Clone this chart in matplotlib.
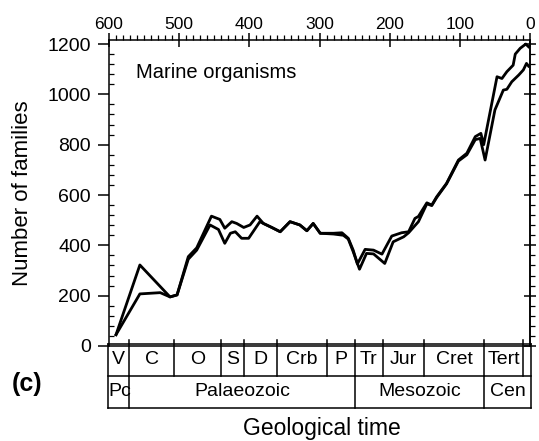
import matplotlib
matplotlib.use("Agg")
import matplotlib.pyplot as plt
from matplotlib.ticker import MultipleLocator

plt.rcParams['font.family'] = ['Liberation Sans', 'DejaVu Sans']

# ---- data (Ma before present, number of families) ----
upper_age = [590, 556, 513, 503, 487, 475, 454, 442, 435, 425, 418, 408, 399, 389,
             380, 368, 356, 342, 328, 318, 309, 299, 280, 268, 259, 252, 246, 235,
             223, 211, 197, 183, 173, 164, 159, 147, 140, 133, 119, 102, 90, 78,
             70, 66, 47, 40, 33, 24, 21, 14, 6, 2]
upper_val = [45, 322, 195, 203, 355, 390, 516, 503, 468, 494, 487, 471, 481, 516,
             487, 471, 454, 494, 481, 458, 487, 448, 448, 450, 428, 381, 326, 384,
             381, 365, 437, 450, 454, 507, 515, 569, 560, 593, 646, 739, 766, 832,
             845, 800, 1070, 1063, 1090, 1116, 1160, 1183, 1200, 1189]

lower_age = [590, 556, 527, 513, 503, 487, 475, 456, 444, 435, 427, 420, 411, 401,
             385, 380, 368, 356, 342, 328, 318, 309, 299, 280, 266, 259, 252, 243,
             233, 223, 207, 195, 180, 173, 159, 147, 140, 133, 119, 102, 90, 78,
             71, 64, 50, 38, 33, 26, 16, 9.5, 5, 2]
lower_val = [45, 207, 212, 195, 203, 345, 381, 481, 463, 408, 448, 454, 428, 428,
             494, 487, 471, 454, 494, 481, 458, 487, 448, 445, 440, 425, 375, 305,
             368, 366, 328, 414, 434, 450, 494, 565, 558, 590, 644, 735, 760, 820,
             825, 739, 938, 1017, 1020, 1050, 1077, 1097, 1123, 1112]

x_ticks = [600, 500, 400, 300, 200, 100, 0]
y_ticks = [0, 200, 400, 600, 800, 1000, 1200]

# geological periods (boundaries in Ma) and labels
period_bounds = [601, 571, 507, 440, 408, 360, 290, 250, 210, 151, 65, 9.5, -2]
period_labels = ['V', 'C', 'O', 'S', 'D', 'Crb', 'P', 'Tr', 'Jur', 'Cret', 'Tert', '']
era_bounds = [601, 571, 250, 65, -2]
era_labels = ['Pc', 'Palaeozoic', 'Mesozoic', 'Cen']

W, H = 539, 441
fig = plt.figure(figsize=(W / 100, H / 100), dpi=100)

def fx(px):
    return px / W

def fy(py):
    return 1 - py / H

ax = fig.add_axes([fx(109), fy(346), fx(530) - fx(109), fy(40) - fy(346)])
ax.plot(upper_age, upper_val, color='black', lw=2.0, solid_joinstyle='round')
ax.plot(lower_age, lower_val, color='black', lw=2.0, solid_joinstyle='round')
ax.set_xlim(600, 0)
ax.set_ylim(0, 1216)

for s in ax.spines.values():
    s.set_linewidth(1.1)

ax.set_xticks(x_ticks)
ax.xaxis.set_minor_locator(MultipleLocator(10))
ax.tick_params(axis='x', which='both', bottom=False, top=True,
               labelbottom=False, labeltop=True, labelsize=12.5, pad=1)
ax.tick_params(axis='x', which='major', direction='inout', length=10, width=1.1)
ax.tick_params(axis='x', which='minor', direction='out', length=3.5, width=0.9)

ax.set_yticks(y_ticks)
ax.yaxis.set_minor_locator(MultipleLocator(40))
ax.tick_params(axis='y', which='both', left=True, right=False, labelsize=14, pad=5)
ax.tick_params(axis='y', which='major', direction='out', length=8, width=1.1)
ax.tick_params(axis='y', which='minor', direction='in', length=3.5, width=0.9)

sec = ax.secondary_yaxis('right')
sec.set_yticks(y_ticks)
sec.yaxis.set_minor_locator(MultipleLocator(40))
sec.tick_params(axis='y', which='major', direction='inout', length=9, width=1.1,
                labelright=False)
sec.tick_params(axis='y', which='minor', direction='out', length=3.5, width=0.9)
sec.spines['right'].set_linewidth(1.1)

ax.set_ylabel('Number of families', fontsize=16)
ax.yaxis.set_label_coords((33 - 109) / 421, 0.5)
ax.text(0.065, 0.895, 'Marine organisms', transform=ax.transAxes, fontsize=14.5,
        ha='left', va='center')

# geological time box
bx = fig.add_axes([fx(109), fy(408), fx(530) - fx(109), fy(344) - fy(408)])
bx.set_xlim(600, 0)
bx.set_ylim(0, 2)
bx.axis('off')
lk = dict(color='black', lw=1.1, clip_on=False)
left, right = period_bounds[0], period_bounds[-1]
bx.plot([left, right], [2, 2], **lk)
bx.plot([left, right], [1, 1], **lk)
bx.plot([left, right], [0, 0], **lk)
bx.plot([left, left], [0, 2], **lk)
bx.plot([right, right], [0, 2], **lk)
for b in period_bounds[1:-1]:
    bx.plot([b, b], [1, 2.12], **lk)
for b in era_bounds[1:-1]:
    bx.plot([b, b], [0, 1], **lk)
for i, lab in enumerate(period_labels):
    c = (period_bounds[i] + period_bounds[i + 1]) / 2
    bx.text(c, 1.5, lab, ha='center', va='center', fontsize=14)
for i, lab in enumerate(era_labels):
    c = (era_bounds[i] + era_bounds[i + 1]) / 2
    if lab == 'Pc':
        bx.text(era_bounds[0] - 0.5, 0.5, lab, ha='left', va='center', fontsize=14)
    else:
        bx.text(c, 0.5, lab, ha='center', va='center', fontsize=14)

fig.text(fx(322), fy(428), 'Geological time', ha='center', va='center', fontsize=16.5)
fig.text(fx(27), fy(384), '(c)', ha='center', va='center', fontsize=18,
         fontweight='bold')

fig.savefig('out.png', dpi=100)
